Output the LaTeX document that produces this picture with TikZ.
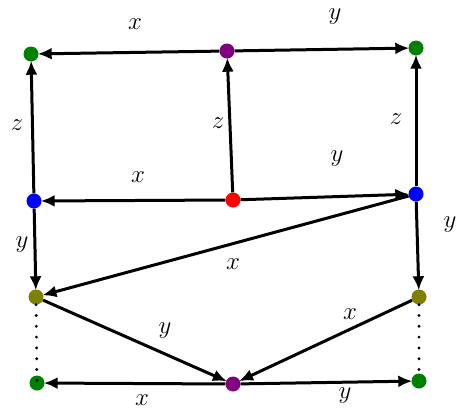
\documentclass[tikz,border=0pt]{standalone}
\usetikzlibrary{arrows.meta}
\definecolor{dgreen}{RGB}{0,128,0}
\definecolor{dpurple}{RGB}{128,0,128}
\definecolor{dolive}{RGB}{128,128,0}
\begin{document}
\begin{tikzpicture}[x=1pt,y=-1pt,
  pt/.style={circle,inner sep=0pt,minimum size=15pt,fill=#1},
  arr/.style={-{Latex[length=14pt,width=12pt]},line width=3pt,shorten >=-1pt},
  dotline/.style={line width=3.2pt,line cap=round,dash pattern=on 0pt off 10.8pt},
  lab/.style={font=\fontsize{24}{28}\selectfont}]
\useasboundingbox (0,0) rectangle (468,416);
% nodes
\node[pt=dgreen] (tl) at (31,54) {};
\node[pt=dpurple] (tm) at (227,51) {};
\node[pt=dgreen] (tr) at (416,48) {};
\node[pt=blue] (ml) at (34,201) {};
\node[pt=red] (mm) at (233,200) {};
\node[pt=blue] (mr) at (416,194) {};
\node[pt=dolive] (ol) at (36,297) {};
\node[pt=dolive] (or) at (419,297) {};
\node[pt=dgreen] (bl) at (37,383) {};
\node[pt=dpurple] (bm) at (233,384) {};
\node[pt=dgreen] (br) at (419,381) {};
% dotted
\draw[dotline] (ol) -- (bl.center);
\draw[dotline] (or) -- (br.north);
% arrows
\draw[arr] (tm) -- (tl);
\draw[arr] (tm) -- (tr);
\draw[arr] (mm) -- (tm);
\draw[arr] (ml) -- (tl);
\draw[arr] (mr) -- (tr);
\draw[arr] (mm) -- (ml);
\draw[arr] (mm) -- (mr);
\draw[arr] (ml) -- (ol);
\draw[arr] (mr) -- (or);
\draw[arr] (mr) -- (ol);
\draw[arr] (ol) -- (bm);
\draw[arr] (or) -- (bm);
\draw[arr] (bm) -- (bl);
\draw[arr] (bm) -- (br);
% labels
\node[lab] (l1) at (135,24) {$x$};
\node[lab] (l2) at (335,17) {$y$};
\node[lab] (l3) at (17,125) {$z$};
\node[lab] (l4) at (218,123) {$z$};
\node[lab] (l5) at (396,119) {$z$};
\node[lab] (l6) at (138,177) {$x$};
\node[lab] (l7) at (337,159) {$y$};
\node[lab] (l8) at (22,245) {$y$};
\node[lab] (l9) at (233,264) {$x$};
\node[lab] (l10) at (450,225) {$y$};
\node[lab] (l11) at (165,331) {$y$};
\node[lab] (l12) at (350,314) {$x$};
\node[lab] (l13) at (142,400) {$x$};
\node[lab] (l14) at (345,396) {$y$};
\end{tikzpicture}
\end{document}
